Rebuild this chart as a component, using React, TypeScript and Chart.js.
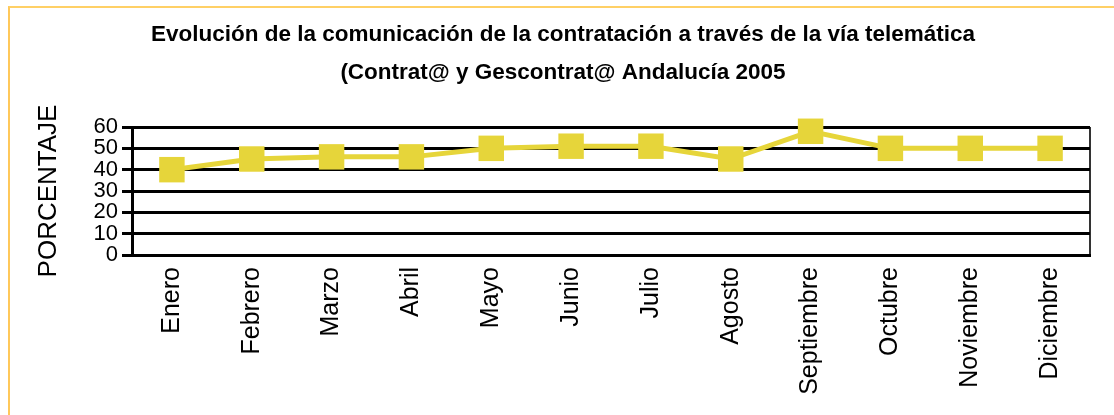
import React, { useEffect, useRef } from 'react';
import { Chart, registerables } from 'chart.js';

Chart.register(...registerables);

const months = ['Enero', 'Febrero', 'Marzo', 'Abril', 'Mayo', 'Junio', 'Julio', 'Agosto', 'Septiembre', 'Octubre', 'Noviembre', 'Diciembre'];
const percentages = [40, 45, 46, 46, 50, 51, 51, 45, 58, 50, 50, 50];
const yTickValues = [0, 10, 20, 30, 40, 50, 60];
const titleLines = [
  'Evolución de la comunicación de la contratación a través de la vía telemática',
  '(Contrat@ y Gescontrat@ Andalucía 2005',
];
const yAxisTitle = 'PORCENTAJE';

const YELLOW = '#E6D53A';
const FONT = '"Liberation Sans", Arial, sans-serif';

export default function App() {
  const ref = useRef<HTMLCanvasElement>(null);

  useEffect(() => {
    if (!ref.current) return;
    const chart = new Chart(ref.current, {
      type: 'line',
      data: {
        labels: months,
        datasets: [
          {
            data: percentages,
            borderColor: YELLOW,
            backgroundColor: YELLOW,
            borderWidth: 5,
            pointStyle: 'rect',
            pointRadius: 18,
            pointHoverRadius: 18,
            pointBorderWidth: 0,
            pointBackgroundColor: YELLOW,
            tension: 0,
            clip: false,
          },
        ],
      },
      options: {
        responsive: false,
        animation: false,
        layout: { padding: { left: 36, right: 24, top: 16, bottom: 0 } },
        plugins: {
          legend: { display: false },
          tooltip: { enabled: false },
          title: {
            display: true,
            text: titleLines,
            color: '#000',
            font: { family: FONT, size: 22.5, weight: 'bold', lineHeight: 38 / 22.5 },
            padding: { top: 0, bottom: 35 },
          },
        },
        scales: {
          x: {
            offset: true,
            afterFit: (scale: any) => {
              scale.height = 160;
            },
            grid: {
              display: true,
              offset: true,
              drawTicks: false,
              lineWidth: 2,
              color: (c: any) => (c.index === undefined ? '#333' : 'rgba(0,0,0,0)'),
            },
            border: { display: true, color: '#000', width: 3 },
            ticks: {
              autoSkip: false,
              minRotation: 90,
              maxRotation: 90,
              padding: 12,
              color: '#000',
              font: { family: FONT, size: 25 },
            },
          },
          y: {
            min: 0,
            max: 60,
            afterBuildTicks: (scale: any) => {
              scale.ticks = yTickValues.map((v) => ({ value: v }));
            },
            afterFit: (scale: any) => {
              scale.width = 96;
            },
            grid: { color: '#000', lineWidth: 3, tickLength: 10 },
            border: { display: true, color: '#000', width: 3 },
            ticks: {
              autoSkip: false,
              padding: 4,
              color: '#000',
              font: { family: FONT, size: 22, lineHeight: 1 },
            },
            title: {
              display: true,
              text: yAxisTitle,
              color: '#000',
              font: { family: FONT, size: 26, lineHeight: 1 },
              padding: 0,
            },
          },
        },
      },
    });
    return () => chart.destroy();
  }, []);

  return (
    <div style={{ position: 'fixed', left: 0, top: 0, width: 1114, height: 415, background: '#fff', overflow: 'hidden' }}>
      <div
        style={{
          position: 'absolute',
          left: 8,
          top: 6,
          width: 1300,
          height: 600,
          borderTop: '2px solid #FFD066',
          borderLeft: '2px solid #FFC85A',
        }}
      />
      <canvas ref={ref} width={1114} height={415} style={{ position: 'absolute', left: 0, top: 0 }} />
    </div>
  );
}
